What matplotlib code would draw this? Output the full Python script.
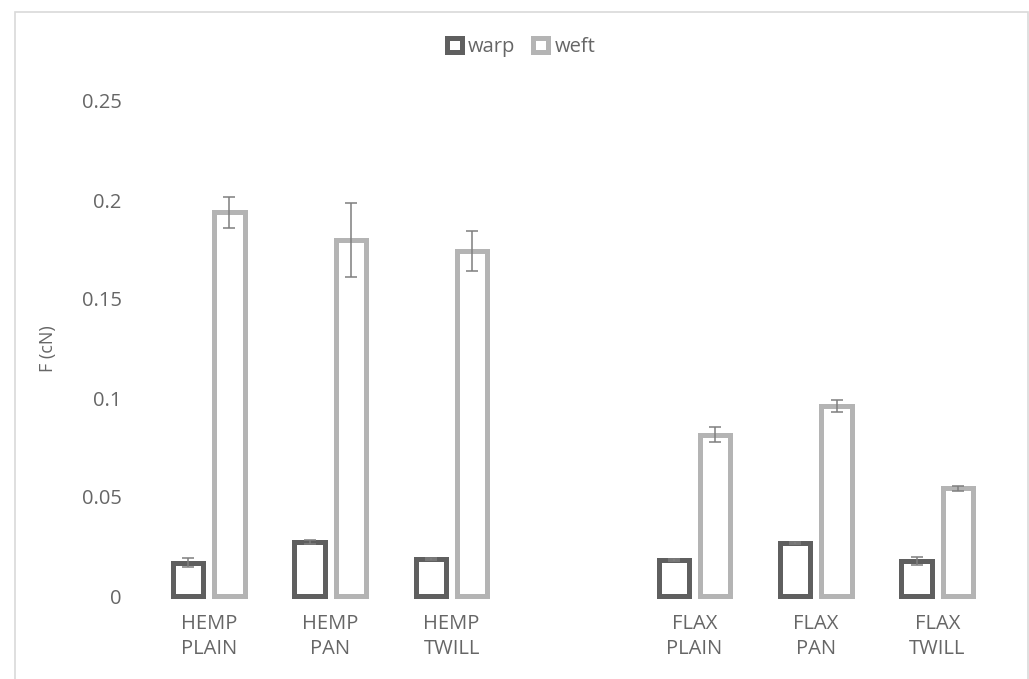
import numpy as np
import matplotlib
matplotlib.use("Agg")
import matplotlib.pyplot as plt
from matplotlib.patches import Rectangle

categories = ["HEMP\nPLAIN", "HEMP\nPAN", "HEMP\nTWILL", "", "FLAX\nPLAIN", "FLAX\nPAN", "FLAX\nTWILL"]
warp = [0.0169, 0.0273, 0.0189, np.nan, 0.0182, 0.0268, 0.0177]
warp_err = [0.0025, 0.0012, 0.0005, np.nan, 0.0005, 0.0005, 0.0020]
weft = [0.1937, 0.1800, 0.1742, np.nan, 0.0815, 0.0958, 0.0544]
weft_err = [0.0078, 0.0187, 0.0099, np.nan, 0.0038, 0.0030, 0.0012]
yticks = [0, 0.05, 0.1, 0.15, 0.2, 0.25]
ytick_labels = ["0", "0.05", "0.1", "0.15", "0.2", "0.25"]

plt.rcParams['font.family'] = ['Open Sans', 'DejaVu Sans']
TXT = '#666666'
WARP_C = '#5f5f5f'
WEFT_C = '#b4b4b4'
ERR_C = '#7f7f7f'

fig = plt.figure(figsize=(10.29, 6.79), dpi=100)
ax = fig.add_axes([148/1029, 1-596/679, (998-148)/1029, (596-101)/679])

x = np.arange(len(categories))
w = 0.25
off = 0.17
ax.bar(x - off, warp, w, facecolor='white', edgecolor=WARP_C, linewidth=3.6, clip_on=False, zorder=2)
ax.bar(x + off, weft, w, facecolor='white', edgecolor=WEFT_C, linewidth=3.6, clip_on=False, zorder=2)
ax.errorbar(x - off, warp, yerr=warp_err, fmt='none', ecolor=ERR_C, elinewidth=1.1, capsize=4.3, capthick=1.1, zorder=3)
ax.errorbar(x + off, weft, yerr=weft_err, fmt='none', ecolor=ERR_C, elinewidth=1.1, capsize=4.3, capthick=1.1, zorder=3)

ax.set_xlim(-0.5, len(categories) - 0.5)
ax.set_ylim(0, 0.25)
ax.set_yticks(yticks)
ax.set_yticklabels(ytick_labels)
ax.set_xticks(x)
ax.set_xticklabels(categories, linespacing=1.3)
for s in ax.spines.values():
    s.set_visible(False)
ax.tick_params(axis='both', length=0, labelsize=14.5, colors=TXT)
ax.tick_params(axis='y', pad=19)
ax.tick_params(axis='x', pad=13)
ax.set_ylabel("F (cN)", fontsize=13, color=TXT, labelpad=18)

h1 = Rectangle((0, 0), 1, 1, facecolor='white', edgecolor=WARP_C, linewidth=3.6)
h2 = Rectangle((0, 0), 1, 1, facecolor='white', edgecolor=WEFT_C, linewidth=3.6)
fig.legend([h1, h2], ["warp", "weft"], loc='center', bbox_to_anchor=(521/1029, 1-47/679),
           ncol=2, frameon=False, fontsize=14.5, labelcolor=TXT, handlelength=0.75, handleheight=0.75,
           handletextpad=0.3, columnspacing=0.9)

fig.patches.append(Rectangle((14.5/1029, -0.05), (1027.5-14.5)/1029, 1.05 - 11.5/679,
                             transform=fig.transFigure, facecolor='none', edgecolor='#d9d9d9',
                             linewidth=1.2, zorder=0))

fig.savefig("out.png", dpi=100, facecolor='white')
